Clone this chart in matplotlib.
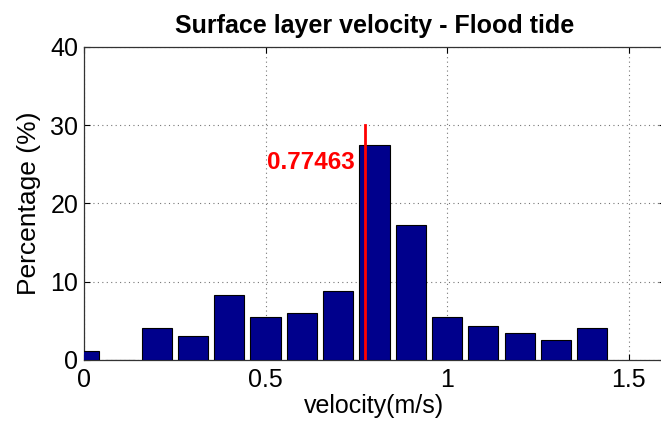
import matplotlib; matplotlib.use("Agg")
import matplotlib.pyplot as plt

plt.rcParams['font.family'] = ['Liberation Sans', 'DejaVu Sans']

# histogram bin centres (m/s) and share of samples (%)
centers = [0.0, 0.1, 0.2, 0.3, 0.4, 0.5, 0.6, 0.7, 0.8, 0.9, 1.0, 1.1, 1.2, 1.3, 1.4]
percent = [1.1, 0.0, 4.05, 3.0, 8.3, 5.45, 6.0, 8.8, 27.5, 17.2, 5.45, 4.4, 3.5, 2.5, 4.05]
mean_vel = 0.77463
mean_label = "0.77463"
xticks = [0, 0.5, 1, 1.5]
xticklabels = ["0", "0.5", "1", "1.5"]
yticks = [0, 10, 20, 30, 40]

fig = plt.figure(figsize=(6.61, 4.22), dpi=100)
# right spine sits just past the image edge, as in the cropped original
ax = fig.add_axes([0.127, 0.147, 0.879, 0.742])

ax.bar(centers, percent, width=0.083, color="#00008C", edgecolor="black", linewidth=0.8, zorder=3)
ax.plot([mean_vel, mean_vel], [0, 30], color="red", lw=2, zorder=4)
ax.text(mean_vel - 0.03, 25.2, mean_label, color="red", fontsize=17.5, fontweight="bold",
        ha="right", va="center", zorder=5)

ax.set_xlim(0, 1.6)
ax.set_ylim(0, 40)
ax.set_xticks(xticks)
ax.set_xticklabels(xticklabels)
ax.set_yticks(yticks)
ax.tick_params(direction="in", labelsize=18, length=4, top=True, right=True, pad=4)
ax.tick_params(axis="x", pad=6)
ax.grid(True, ls=(0, (1, 3)), color="#777", lw=0.8, zorder=0)
for s in ax.spines.values():
    s.set_color("#333")
    s.set_linewidth(0.9)

ax.set_title("Surface layer velocity - Flood tide", fontsize=18, fontweight="bold", pad=10)
ax.set_xlabel("velocity(m/s)", fontsize=18, labelpad=1)
ax.set_ylabel("Percentage (%)", fontsize=19, labelpad=7)

fig.savefig("out.png", dpi=100)
